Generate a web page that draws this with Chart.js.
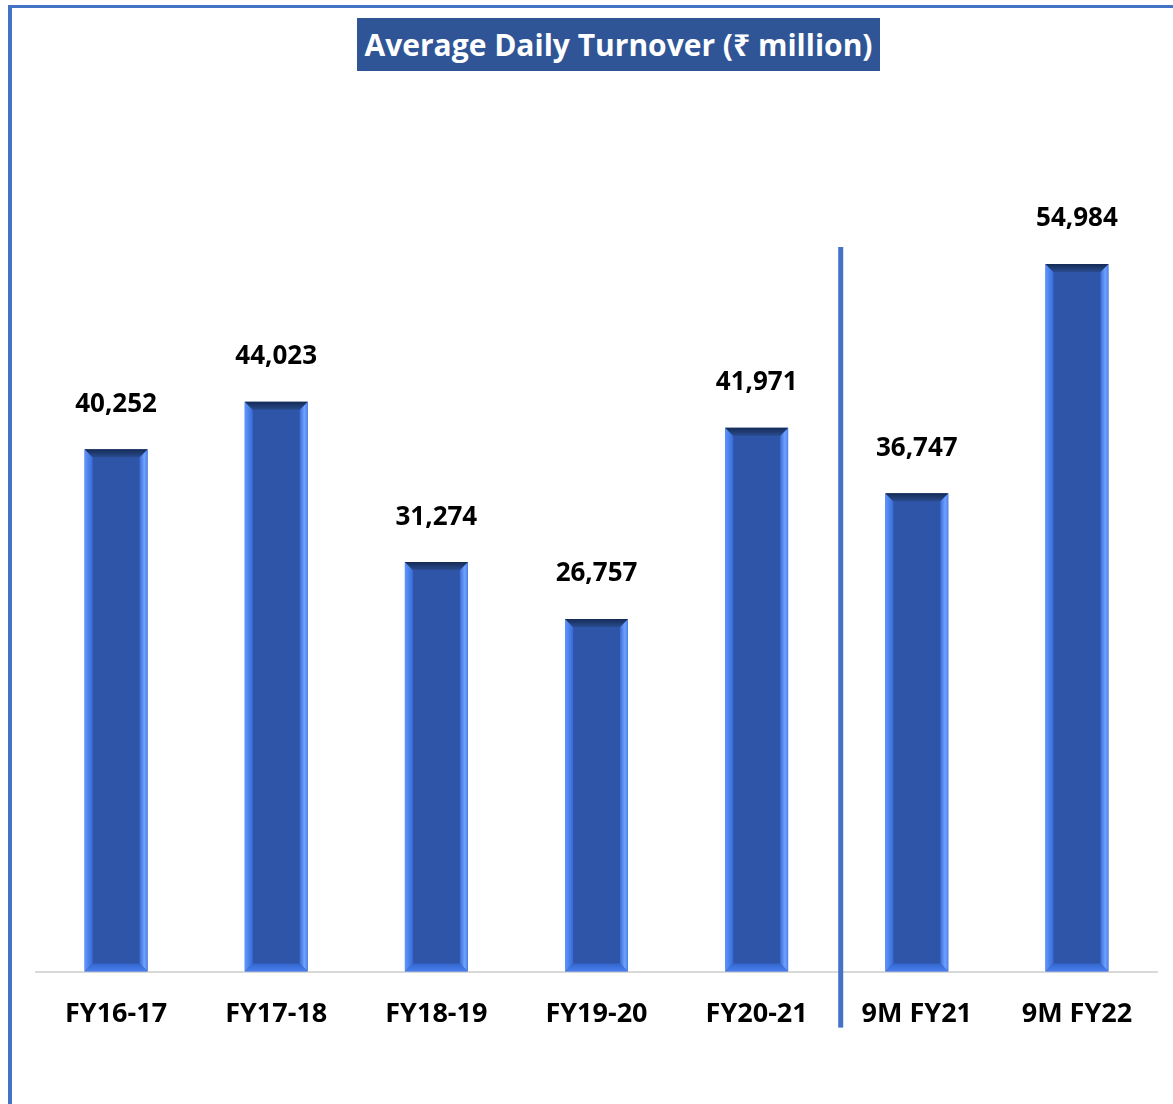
<!DOCTYPE html>
<html>
<head>
<meta charset="utf-8">
<script src="https://cdn.jsdelivr.net/npm/chart.js@4/dist/chart.umd.min.js"></script>
<style>
  html, body { margin: 0; padding: 0; background: #fff; }
  #wrap { position: relative; width: 1173px; height: 1104px; overflow: hidden; }
  #c { position: absolute; left: 0; top: 0; }
  #topBorder { position: absolute; left: 8px; top: 5px; width: 1165px; height: 3px; background: #4472C4; }
  #leftBorder { position: absolute; left: 8px; top: 5px; width: 4px; height: 1099px; background: #4472C4; }
  #title { position: absolute; left: 357px; top: 18px; width: 523px; height: 53px; background: #2F5597;
           color: #fff; font-family: "Open Sans", "Noto Sans", sans-serif; font-weight: bold; font-size: 30px;
           line-height: 53px; text-align: center; white-space: nowrap; }
</style>
</head>
<body>
<div id="wrap">
  <canvas id="c" width="1173" height="1104"></canvas>
  <div id="topBorder"></div>
  <div id="leftBorder"></div>
  <div id="title">Average Daily Turnover (₹ million)</div>
</div>
<script>
const categories = ["FY16-17", "FY17-18", "FY18-19", "FY19-20", "FY20-21", "9M FY21", "9M FY22"];
const turnover = [40252, 44023, 31274, 26757, 41971, 36747, 54984];
const dividerAfterIndex = 4;

const Y_MIN = -1300;
const Y_MAX = 60000;
const FONT = '"Open Sans", "Noto Sans", sans-serif';

const bevelPlugin = {
  id: 'bevel',
  afterDatasetsDraw(chart) {
    const ctx = chart.ctx;
    const meta = chart.getDatasetMeta(0);
    meta.data.forEach((bar) => {
      const p = bar.getProps(['x', 'y', 'width', 'base'], true);
      const L = p.x - p.width / 2, R = p.x + p.width / 2;
      const top = p.y, bot = p.base;
      const b = 8;
      ctx.save();
      let g = ctx.createLinearGradient(L, 0, L + b, 0);
      g.addColorStop(0, '#5C97FF'); g.addColorStop(1, '#3A6AD6');
      ctx.fillStyle = g;
      ctx.beginPath(); ctx.moveTo(L, top); ctx.lineTo(L + b, top + b); ctx.lineTo(L + b, bot - b); ctx.lineTo(L, bot); ctx.closePath(); ctx.fill();
      g = ctx.createLinearGradient(R - b, 0, R, 0);
      g.addColorStop(0, '#3C6CD4'); g.addColorStop(0.6, '#6FA2FF'); g.addColorStop(1, '#4D82EA');
      ctx.fillStyle = g;
      ctx.beginPath(); ctx.moveTo(R, top); ctx.lineTo(R - b, top + b); ctx.lineTo(R - b, bot - b); ctx.lineTo(R, bot); ctx.closePath(); ctx.fill();
      g = ctx.createLinearGradient(0, bot - b, 0, bot);
      g.addColorStop(0, '#3566CF'); g.addColorStop(1, '#4A80EE');
      ctx.fillStyle = g;
      ctx.beginPath(); ctx.moveTo(L, bot); ctx.lineTo(R, bot); ctx.lineTo(R - b, bot - b); ctx.lineTo(L + b, bot - b); ctx.closePath(); ctx.fill();
      g = ctx.createLinearGradient(0, top, 0, top + b);
      g.addColorStop(0, '#152B55'); g.addColorStop(1, '#2A4B8F');
      ctx.fillStyle = g;
      ctx.beginPath(); ctx.moveTo(L, top); ctx.lineTo(R, top); ctx.lineTo(R - b, top + b); ctx.lineTo(L + b, top + b); ctx.closePath(); ctx.fill();
      ctx.restore();
    });
  }
};

const labelPlugin = {
  id: 'valueLabels',
  afterDatasetsDraw(chart) {
    const ctx = chart.ctx;
    const meta = chart.getDatasetMeta(0);
    ctx.save();
    ctx.font = 'bold 26px ' + FONT;
    ctx.fillStyle = '#000';
    ctx.textAlign = 'center';
    ctx.textBaseline = 'middle';
    meta.data.forEach((bar, i) => {
      const p = bar.getProps(['x', 'y'], true);
      ctx.fillText(turnover[i].toLocaleString('en-US'), p.x, p.y - 45);
    });
    ctx.restore();
  }
};

const dividerPlugin = {
  id: 'divider',
  afterDatasetsDraw(chart) {
    const xs = chart.scales.x;
    const x = (xs.getPixelForValue(dividerAfterIndex) + xs.getPixelForValue(dividerAfterIndex + 1)) / 2 + 4;
    const ctx = chart.ctx;
    const top = chart.chartArea.top + 46;
    const bottom = chart.chartArea.bottom + 56;
    ctx.save();
    ctx.fillStyle = '#4472C4';
    ctx.fillRect(x - 2.5, top, 5, bottom - top);
    ctx.restore();
  }
};

new Chart(document.getElementById('c'), {
  type: 'bar',
  data: {
    labels: categories,
    datasets: [{
      data: turnover,
      backgroundColor: '#2E55A8',
      borderWidth: 0,
      base: Y_MIN,
      categoryPercentage: 1,
      barPercentage: 0.393
    }]
  },
  options: {
    responsive: false,
    animation: false,
    layout: { padding: { left: 36, right: 16, top: 201, bottom: 46 } },
    plugins: { legend: { display: false }, tooltip: { enabled: false }, title: { display: false } },
    scales: {
      x: {
        grid: { display: false, drawTicks: false },
        border: { display: true, color: '#D9D9D9', width: 2 },
        ticks: { color: '#000', padding: 27, font: { family: FONT, weight: 'bold', size: 27 } }
      },
      y: {
        display: false,
        min: Y_MIN,
        max: Y_MAX
      }
    }
  },
  plugins: [bevelPlugin, labelPlugin, dividerPlugin]
});
</script>
</body>
</html>
